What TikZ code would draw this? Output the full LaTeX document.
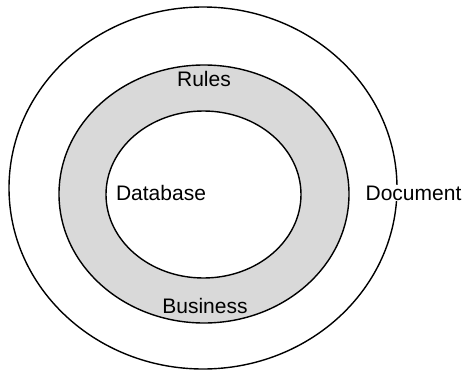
\documentclass[tikz,border=0pt]{standalone}
\usepackage{fontspec}
\setmainfont{Liberation Sans}
\usetikzlibrary{shapes.geometric}
\begin{document}
\begin{tikzpicture}[
      x=1pt, y=-1pt,
      ring/.style={ellipse, draw, line width=1.4pt, inner sep=0pt},
      band/.style={ring, fill=black!15},
      core/.style={ring, fill=white},
      label/.style={font=\fontsize{21}{25}\selectfont, inner sep=1pt}
    ]
    \useasboundingbox (0,0) rectangle (464,370);

    % Rings
    \node[ring] (outer) at (203,188) [minimum width=388pt, minimum height=362pt] {};
    \node[band] (middle) at (204,194) [minimum width=290pt, minimum height=258pt] {};
    \node[core] (inner) at (203.5,194.5) [minimum width=195pt, minimum height=167pt] {};

    % Labels
    \node[label] (rules) at (204,79) {Rules};
    \node[label] (business) at (205,306) {Business};
    \node[label] (database) at (161,193) {Database};
    \node[label, fill=white] (document) at (413.5,193) {Document};
  \end{tikzpicture}
\end{document}
